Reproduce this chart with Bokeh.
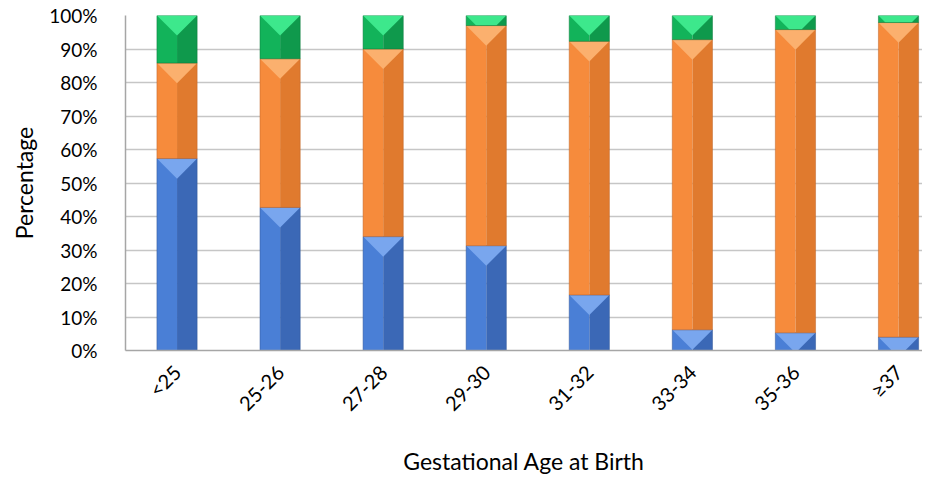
from bokeh.plotting import figure
from bokeh.models import Range1d, FixedTicker
from bokeh.embed import file_html
from bokeh.resources import INLINE
import math

categories = ["<25", "25-26", "27-28", "29-30", "31-32", "33-34", "35-36", "≥37"]
blue_pct = [57.3, 42.7, 34.0, 31.3, 16.6, 6.2, 5.3, 4.0]
orange_pct = [28.5, 44.4, 56.0, 65.7, 75.7, 86.6, 90.5, 93.9]
green_pct = [100 - b - o for b, o in zip(blue_pct, orange_pct)]
y_ticks = [0, 10, 20, 30, 40, 50, 60, 70, 80, 90, 100]

series = [
    (blue_pct, "#4a7fd6", "#3b68b6", "#79a6ee", "#2f5597"),
    (orange_pct, "#f68b3c", "#e07a2e", "#fbb06e", "#c0652a"),
    (green_pct, "#12b35a", "#0f994c", "#3de88c", "#0b7a3c"),
]

FONT = "Lato"
W, H = 922, 481
CAT_W = 103.07
LEFT, TOP = 125, 15
BOTTOM = H - 350
frame_w = W - LEFT
x_end = frame_w / CAT_W

p = figure(width=W, height=H, output_backend="svg", toolbar_location=None,
           x_range=Range1d(0, x_end), y_range=Range1d(0, 100),
           min_border_left=LEFT, min_border_right=0, min_border_top=TOP,
           min_border_bottom=BOTTOM)
p.outline_line_color = None
p.background_fill_color = "white"
p.border_fill_color = "white"

bw = 0.39
hw = bw / 2
xs = [i + 0.5 for i in range(len(categories))]
bottoms = [0.0] * len(categories)
tri_depth = 6.0  # in percent units (~20px)
for vals, c, cd, cl, edge in series:
    tops = [b + v for b, v in zip(bottoms, vals)]
    p.quad(left=[x - hw for x in xs], right=xs, bottom=bottoms, top=tops,
           fill_color=c, line_color=None)
    p.quad(left=xs, right=[x + hw for x in xs], bottom=bottoms, top=tops,
           fill_color=cd, line_color=None)
    pxs, pys = [], []
    for x, b, t in zip(xs, bottoms, tops):
        d = min(tri_depth, t - b)
        f = d / tri_depth
        pxs.append([x - hw, x + hw, x + hw * (1 - f), x - hw * (1 - f)])
        pys.append([t, t, t - d, t - d])
    p.patches(pxs, pys, fill_color=cl, line_color=None)
    p.quad(left=[x - hw for x in xs], right=[x + hw for x in xs], bottom=bottoms, top=tops,
           fill_color=None, line_color=edge, line_alpha=0.5, line_width=1)
    bottoms = tops

p.xgrid.grid_line_color = None
p.ygrid.grid_line_color = "#c6c6c6"
p.ygrid.grid_line_width = 1.5
p.ygrid.ticker = FixedTicker(ticks=y_ticks)

p.yaxis.ticker = FixedTicker(ticks=y_ticks)
p.yaxis.major_label_overrides = {t: f"{t}%" for t in y_ticks}
p.yaxis.axis_line_color = "#a6a6a6"
p.yaxis.axis_line_width = 1.5
p.yaxis.major_tick_line_color = None
p.yaxis.minor_tick_line_color = None
p.yaxis.major_label_standoff = 22
p.yaxis.major_label_text_font = FONT
p.yaxis.major_label_text_font_size = "19px"
p.yaxis.major_label_text_color = "#000000"
p.yaxis.axis_label = "Percentage"
p.yaxis.axis_label_text_font = FONT
p.yaxis.axis_label_text_font_size = "23px"
p.yaxis.axis_label_text_font_style = "normal"
p.yaxis.axis_label_text_color = "#000000"
p.yaxis.axis_label_standoff = 8

p.xaxis.ticker = FixedTicker(ticks=xs)
p.xaxis.major_label_overrides = {x: c for x, c in zip(xs, categories)}
p.xaxis.major_label_orientation = math.pi / 4
p.xaxis.axis_line_color = "#a6a6a6"
p.xaxis.axis_line_width = 1.5
p.xaxis.major_tick_line_color = None
p.xaxis.minor_tick_line_color = None
p.xaxis.major_label_standoff = 12
p.xaxis.major_label_text_font = FONT
p.xaxis.major_label_text_font_size = "20px"
p.xaxis.major_label_text_color = "#000000"
p.xaxis.axis_label = "Gestational Age at Birth"
p.xaxis.axis_label_text_font = FONT
p.xaxis.axis_label_text_font_size = "23px"
p.xaxis.axis_label_text_font_style = "normal"
p.xaxis.axis_label_text_color = "#000000"
p.xaxis.axis_label_standoff = 20

open("out.html", "w").write(file_html(p, INLINE))
